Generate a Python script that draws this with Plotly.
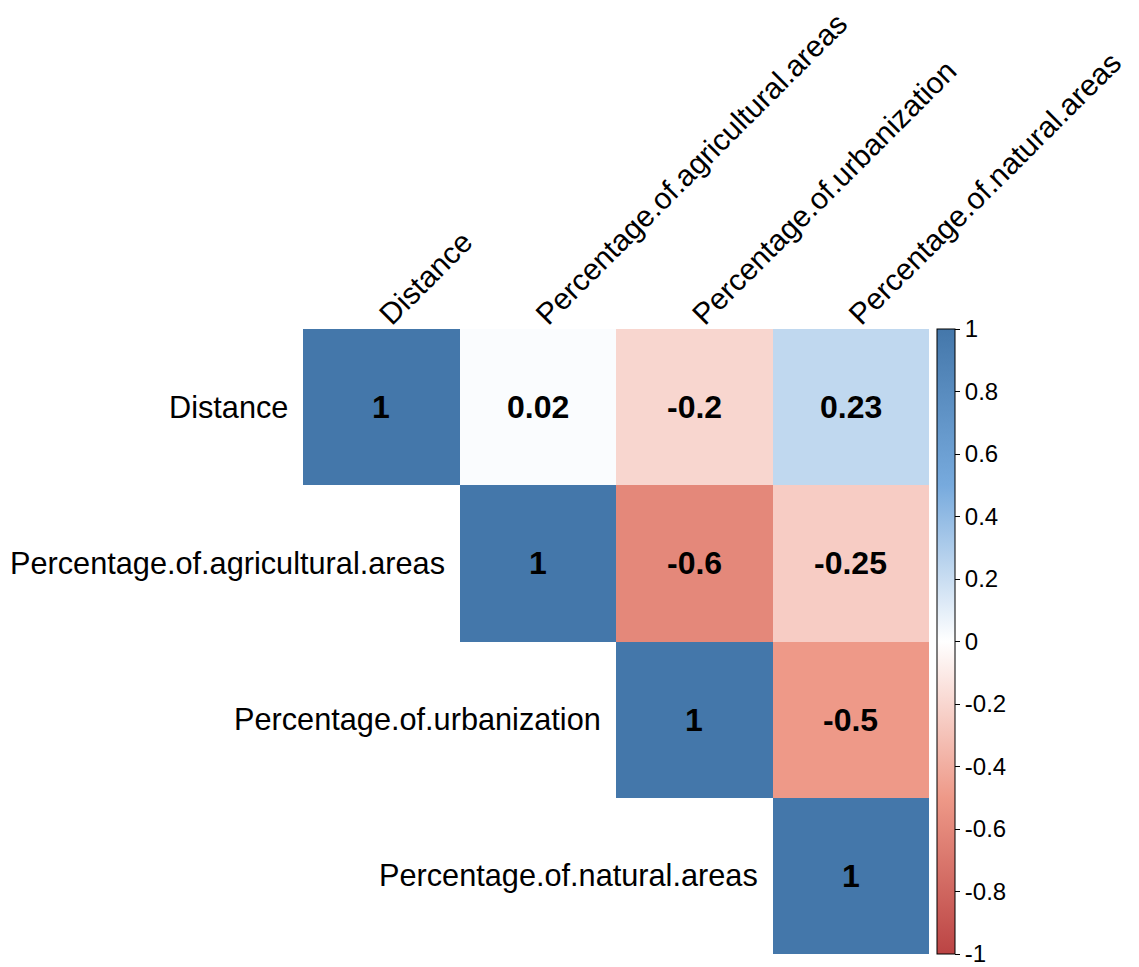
import plotly.graph_objects as go

# Variables and their pairwise correlations (upper triangle incl. diagonal)
variables = [
    "Distance",
    "Percentage.of.agricultural.areas",
    "Percentage.of.urbanization",
    "Percentage.of.natural.areas",
]
corr_rows = [
    [1, 0.02, -0.2, 0.23],
    [None, 1, -0.6, -0.25],
    [None, None, 1, -0.5],
    [None, None, None, 1],
]
bar_ticks = [-1, -0.8, -0.6, -0.4, -0.2, 0, 0.2, 0.4, 0.6, 0.8, 1]

colorscale = [
    [0.0, "#BB4444"],
    [0.25, "#EE9988"],
    [0.5, "#FFFFFF"],
    [0.75, "#77AADD"],
    [1.0, "#4477AA"],
]
FONT = "Liberation Sans, Arial, sans-serif"

n = len(variables)
idx = list(range(n))

fig = go.Figure(
    go.Heatmap(
        z=corr_rows,
        x=idx,
        y=idx,
        zmin=-1,
        zmax=1,
        colorscale=colorscale,
        hoverongaps=False,
        colorbar=dict(
            x=1.0128,
            xanchor="left",
            xpad=0,
            y=0.5,
            yanchor="middle",
            len=1.0,
            ypad=0,
            thickness=18,
            outlinecolor="black",
            outlinewidth=1,
            tickvals=bar_ticks,
            ticktext=[f"{t:g}" for t in bar_ticks],
            ticks="outside",
            ticklen=5,
            tickcolor="black",
            ticklabeloverflow="allow",
            tickfont=dict(family=FONT, size=24, color="black"),
        ),
    )
)

# Correlation values printed in each cell
for i, row in enumerate(corr_rows):
    for j, v in enumerate(row):
        if v is None:
            continue
        fig.add_annotation(
            x=j, y=i, text=f"<b>{v:g}</b>", showarrow=False,
            font=dict(family=FONT, size=32, color="black"),
        )

# Row labels sit beside the diagonal cell
for i, name in enumerate(variables):
    fig.add_annotation(
        x=i - 0.5, y=i, xref="x", yref="y", text=name, showarrow=False,
        xanchor="right", yanchor="middle", xshift=-13,
        font=dict(family=FONT, size=30.7, color="black"),
    )

fig.update_layout(
    width=1139,
    height=967,
    margin=dict(l=303, r=210, t=329, b=13, autoexpand=False),
    paper_bgcolor="white",
    plot_bgcolor="white",
    xaxis=dict(
        range=[-0.5, n - 0.5],
        tickvals=idx,
        ticktext=variables,
        side="top",
        tickangle=-45,
        ticks="",
        ticklabelstandoff=-9,
        showgrid=False,
        zeroline=False,
        showline=False,
        automargin=False,
        tickfont=dict(family=FONT, size=30, color="black"),
    ),
    yaxis=dict(
        range=[n - 0.5, -0.5],
        showticklabels=False,
        ticks="",
        showgrid=False,
        zeroline=False,
        showline=False,
    ),
)

fig.write_html("out.html")
